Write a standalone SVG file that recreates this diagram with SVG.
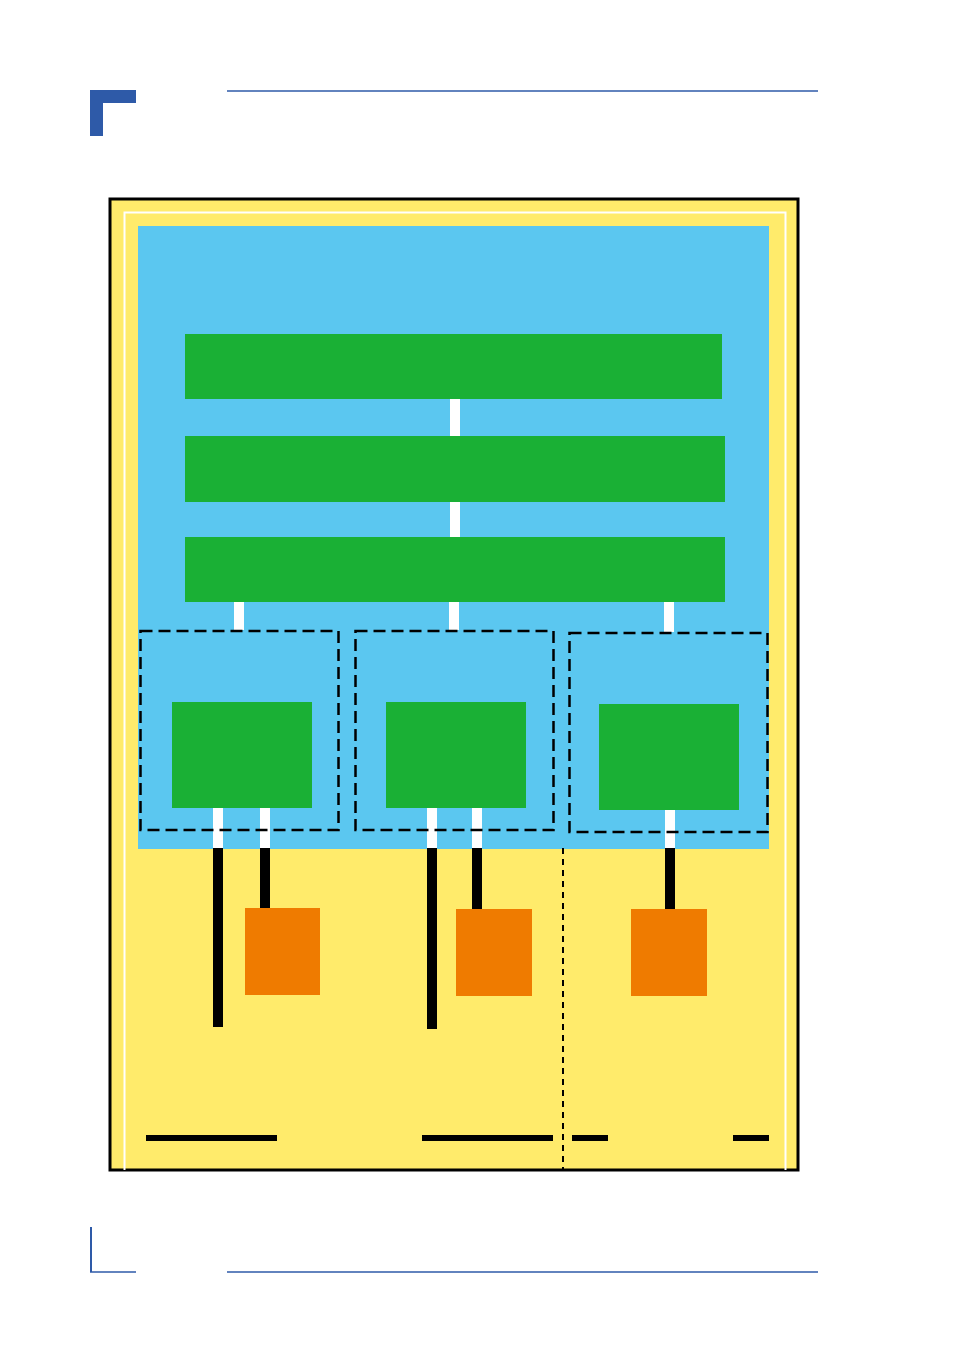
<svg xmlns="http://www.w3.org/2000/svg" width="954" height="1350" viewBox="0 0 954 1350">
<style>
.brand{fill:#2E5AA8}
.rule{stroke:#2E5AA8;stroke-width:1.5;fill:none}
.green{fill:#1AB035}
.orange{fill:#EF7B00}
.white{fill:#FFFFFF}
.blk{fill:#000000}
.dash{fill:none;stroke:#000;stroke-width:2.5;stroke-dasharray:12 6}
.vdash{fill:none;stroke:#000;stroke-width:2;stroke-dasharray:6 5}
</style>
<rect width="954" height="1350" fill="#FFFFFF"/>
<g id="header">
<path class="brand" d="M90 90H136V103H103V136H90Z"/>
<line class="rule" x1="227" y1="91" x2="818" y2="91"/>
</g>
<g id="footer">
<line x1="91" y1="1227" x2="91" y2="1272" stroke="#2E5AA8" stroke-width="2"/>
<line class="rule" x1="90" y1="1272" x2="136" y2="1272"/>
<line class="rule" x1="227" y1="1272" x2="818" y2="1272"/>
</g>
<g id="frame">
<rect x="110" y="199" width="688" height="971" fill="#FFEB6B"/>
<path d="M110 1170V199H798V1170Z" fill="none" stroke="#000" stroke-width="3"/>
<path d="M124.5 1170V212.5H785.5V1170" fill="none" stroke="#FFFFFF" stroke-width="2"/>
<rect x="138" y="226" width="631" height="623" fill="#5BC7F0"/>
</g>
<g id="connectors">
<rect class="white" x="450" y="399" width="10" height="37"/>
<rect class="white" x="450" y="502" width="10" height="35"/>
<rect class="white" x="234" y="602" width="10" height="28"/>
<rect class="white" x="449" y="602" width="10" height="28"/>
<rect class="white" x="664" y="602" width="10" height="30"/>
<rect class="white" x="213" y="808" width="10" height="40"/>
<rect class="white" x="260" y="808" width="10" height="40"/>
<rect class="white" x="427" y="808" width="10" height="40"/>
<rect class="white" x="472" y="808" width="10" height="40"/>
<rect class="white" x="665" y="810" width="10" height="38"/>
<rect class="blk" x="213" y="848" width="10" height="179"/>
<rect class="blk" x="260" y="848" width="10" height="60"/>
<rect class="blk" x="427" y="848" width="10" height="181"/>
<rect class="blk" x="472" y="848" width="10" height="61"/>
<rect class="blk" x="665" y="848" width="10" height="61"/>
<line class="vdash" x1="563" y1="848" x2="563" y2="1170"/>
<rect class="blk" x="146" y="1135" width="131" height="6"/>
<rect class="blk" x="422" y="1135" width="131" height="6"/>
<rect class="blk" x="572" y="1135" width="36" height="6"/>
<rect class="blk" x="733" y="1135" width="36" height="6"/>
</g>
<g id="bar1"><rect class="green" x="185" y="334" width="537" height="65"/></g>
<g id="bar2"><rect class="green" x="185" y="436" width="540" height="66"/></g>
<g id="bar3"><rect class="green" x="185" y="537" width="540" height="65"/></g>
<g id="group1">
<rect class="dash" x="140.5" y="631" width="198" height="199"/>
<rect class="green" x="172" y="702" width="140" height="106"/>
</g>
<g id="group2">
<rect class="dash" x="355.5" y="631" width="198" height="199"/>
<rect class="green" x="386" y="702" width="140" height="106"/>
</g>
<g id="group3">
<rect class="dash" x="569.5" y="633" width="198" height="199"/>
<rect class="green" x="599" y="704" width="140" height="106"/>
</g>
<g id="device1"><rect class="orange" x="245" y="908" width="75" height="87"/></g>
<g id="device2"><rect class="orange" x="456" y="909" width="76" height="87"/></g>
<g id="device3"><rect class="orange" x="631" y="909" width="76" height="87"/></g>
</svg>
